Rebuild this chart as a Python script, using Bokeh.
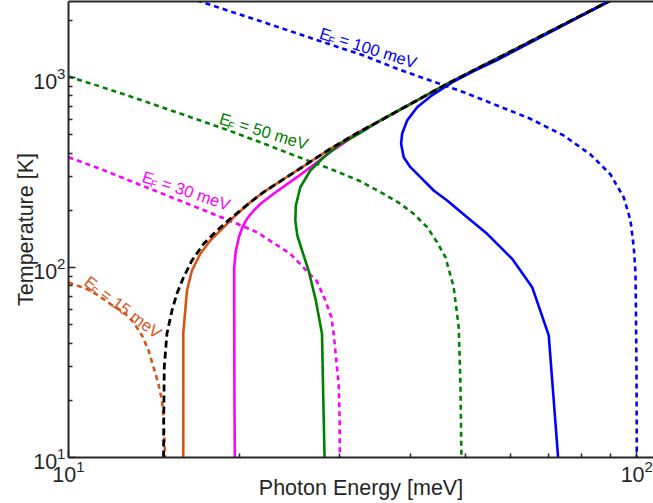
import math
from bokeh.plotting import figure
from bokeh.models import FixedTicker, LogTickFormatter, LogAxis, Label
from bokeh.embed import file_html
from bokeh.resources import INLINE

# ---------------- data ----------------
# Fermi energies of the four doped curves [meV]
fermi_energies = [15, 30, 50, 100]
series_colors = ["#D95319", "#FF00FF", "#008000", "#0000FF"]

# Undoped (black dashed) threshold curve
undoped_E = [14.70, 14.71, 14.74, 14.90, 15.21, 15.51, 15.94, 16.49, 17.29, 18.25,
             19.40, 20.89, 22.04, 25.24, 28.88, 32.40, 35.38, 46.37, 56.78, 89.9]
undoped_T = [10, 15.7, 29.9, 44.9, 59.4, 72.7, 88.9, 108.9, 133.3, 156.5,
             183.9, 220.7, 249.1, 324.0, 421.5, 515.4, 593.8, 926.6, 1259, 2543]

# Solid threshold curves
onset_15_E = [15.92, 15.92, 15.92, 16.05, 16.16, 16.49, 17.06, 17.76, 18.63, 19.52,
              20.89, 22.04, 25.24, 28.88, 32.40, 35.38, 46.37, 56.78, 89.9]
onset_15_T = [10, 19.95, 44.9, 59.4, 75.7, 96.4, 118.1, 138.7, 159.8, 183.9,
              220.7, 249.1, 324.0, 421.5, 515.4, 593.8, 926.6, 1259, 2543]

onset_30_E = [19.62, 19.59, 19.57, 19.57, 19.70, 19.94, 20.22, 20.63, 21.14, 21.75,
              22.96, 25.24, 27.37, 28.88, 32.40, 35.38, 46.37, 56.78, 89.9]
onset_30_T = [10, 19.95, 59.4, 100.4, 122.9, 143.8, 162.4, 181.1, 198.4, 215.9,
              244.3, 298.8, 358.3, 404.6, 510.4, 593.8, 926.6, 1259, 2543]

onset_50_E = [28.22, 28.08, 27.93, 27.24, 26.45, 25.76, 25.27, 25.07, 25.12, 25.58,
              26.64, 28.12, 30.09, 32.40, 35.38, 46.37, 56.78, 89.9]
onset_50_T = [10, 19.95, 44.8, 67.1, 96.4, 122.9, 147.4, 176.8, 212.1, 264.6,
              324.0, 380.6, 447.8, 505.3, 593.8, 926.6, 1259, 2543]

onset_100_E = [72.70, 69.99, 65.45, 60.34, 57.54, 54.53, 50.28, 46.37, 43.91, 41.61,
               39.96, 38.89, 38.48, 38.64, 39.43, 41.07, 43.33, 47.32, 51.64, 56.78, 89.9]
onset_100_T = [10, 43.9, 78.8, 111.1, 127.9, 150.4, 183.9, 225.3, 254.3, 298.8,
               337.3, 380.6, 447.8, 505.3, 593.8, 697.9, 794.3, 941.6, 1082, 1236, 2543]

# Dashed chemical-potential curves mu(T)
mu_15_E = [10.0, 10.14, 10.77, 11.29, 11.84, 12.50, 13.01, 13.47, 13.83, 14.11,
           14.40, 14.60, 14.70, 14.74, 14.80]
mu_15_T = [83.4, 82.1, 77.2, 71.2, 64.4, 58.2, 51.5, 43.9, 36.6, 29.9,
           24.4, 19.95, 16.3, 12.8, 10]

mu_30_E = [10.0, 11.37, 13.01, 14.90, 17.06, 19.52, 21.46, 24.56, 27.37, 28.31,
           29.01, 29.28, 29.88, 30.0, 30.02]
mu_30_T = [380.6, 330.7, 281.2, 239.3, 203.7, 173.1, 153.4, 118.1, 84.4, 67.1,
           54.8, 44.8, 24.4, 15.66, 10]

mu_50_E = [10.0, 11.37, 13.01, 14.90, 17.06, 19.52, 22.04, 25.24, 28.88, 32.40,
           35.85, 38.37, 40.50, 42.76, 44.53, 46.05, 47.62, 48.60, 48.94, 49.14]
mu_50_T = [1012, 896.8, 784.8, 682.8, 593.8, 515.4, 449.4, 383.9, 330.7, 287.1,
           244.3, 216.4, 191.7, 163.0, 135.9, 113.3, 78.8, 48.5, 24.4, 10]

mu_100_E = [16.83, 22.04, 28.88, 33.07, 37.87, 43.33, 49.60, 56.78, 65.0, 74.37,
            82.88, 89.9, 94.87, 97.47, 98.79, 99.48, 99.68, 99.9, 100.0]
mu_100_T = [2543, 1955, 1492, 1306, 1111, 964.3, 836.8, 712.3, 606.1, 495.2,
            393.3, 308.7, 233.6, 176.8, 127.4, 93.0, 54.6, 25.4, 10]

# Axis ticks
x_major_ticks = [10, 100]
x_minor_ticks = [20, 30, 40, 50, 60, 70, 80, 90]
y_major_ticks = [10, 100, 1000]
y_minor_ticks = [20, 30, 40, 50, 60, 70, 80, 90,
                 200, 300, 400, 500, 600, 700, 800, 900, 2000]

# ---------------- figure ----------------
FONT = "Liberation Sans"
AXC = "#262626"

p = figure(width=653, height=503, x_axis_type="log", y_axis_type="log",
           x_range=(10, 107.0), y_range=(10, 2512),
           output_backend="svg", toolbar_location=None,
           min_border_left=68, min_border_right=0, min_border_top=1, min_border_bottom=46)
p.background_fill_color = "white"
p.border_fill_color = "white"
p.outline_line_color = None
p.grid.visible = False

for ax, ticks, minors, lab in ((p.xaxis[0], x_major_ticks, x_minor_ticks, "Photon Energy [meV]"),
                               (p.yaxis[0], y_major_ticks, y_minor_ticks, "Temperature [K]")):
    ax.ticker = FixedTicker(ticks=ticks, minor_ticks=minors)
    ax.formatter = LogTickFormatter()
    ax.axis_label = lab
    ax.axis_label_text_font = FONT
    ax.axis_label_text_font_size = "21.5px"
    ax.axis_label_text_font_style = "normal"
    ax.axis_label_text_color = AXC
    ax.major_label_text_font = FONT
    ax.major_label_text_font_size = "21.5px"
    ax.major_label_text_color = AXC
    ax.axis_line_color = AXC
    ax.axis_line_width = 2
    ax.major_tick_line_color = AXC
    ax.minor_tick_line_color = AXC
    ax.major_tick_line_width = 1.5
    ax.minor_tick_line_width = 1.5
    ax.major_tick_in = 7
    ax.major_tick_out = 0
    ax.minor_tick_in = 4
    ax.minor_tick_out = 0

p.xaxis[0].major_label_standoff = 2
p.xaxis[0].axis_label_standoff = -9
p.yaxis[0].major_label_standoff = 3
p.yaxis[0].axis_label_standoff = -8

top_axis = LogAxis(ticker=FixedTicker(ticks=[]), major_label_text_font_size="0px",
                   major_label_standoff=0, major_tick_in=0, major_tick_out=0,
                   minor_tick_in=0, minor_tick_out=0,
                   axis_line_color=AXC, axis_line_width=2)
p.add_layout(top_axis, "above")

mu_curves = [(mu_15_E, mu_15_T), (mu_30_E, mu_30_T), (mu_50_E, mu_50_T), (mu_100_E, mu_100_T)]
onset_curves = [(onset_15_E, onset_15_T), (onset_30_E, onset_30_T),
                (onset_50_E, onset_50_T), (onset_100_E, onset_100_T)]

for (xs, ys), c in zip(mu_curves, series_colors):
    p.line(xs, ys, line_color=c, line_width=2.6, line_dash="5 4")
for (xs, ys), c in zip(onset_curves, series_colors):
    p.line(xs, ys, line_color=c, line_width=2.6, line_join="round")
p.line(undoped_E, undoped_T, line_color="black", line_width=2.8, line_dash="7 4")

# ---------------- curve labels ----------------
label_anchor_E = [10.76, 13.52, 18.48, 27.73]
label_anchor_T = [86.5, 303.5, 614.2, 1726]
label_angle_deg = [-37, -18.5, -17, -17.5]

FS = 16.5
SUB_FS = 10.5
for ef, c, lx, ly, deg in zip(fermi_energies, series_colors, label_anchor_E, label_anchor_T, label_angle_deg):
    th = math.radians(deg)
    ux, uy = math.cos(th), math.sin(th)
    dx, dy = uy, -ux  # "down" relative to the text
    wE = 0.667 * FS
    wF = 0.611 * SUB_FS
    wSp = 0.278 * FS
    common = dict(x=lx, y=ly, angle=th, text_color=c, text_font=FONT,
                  text_align="left", text_baseline="alphabetic")
    p.add_layout(Label(text="E", x_offset=0, y_offset=0, text_font_size=f"{FS}px", **common))
    p.add_layout(Label(text="F", x_offset=ux * (wE - 1.5) + dx * 4, y_offset=uy * (wE - 1.5) + dy * 4,
                       text_font_size=f"{SUB_FS}px", **common))
    off = wE + wF + wSp - 1.5
    p.add_layout(Label(text=f"= {ef} meV", x_offset=ux * off, y_offset=uy * off,
                       text_font_size=f"{FS}px", **common))

open("out.html", "w").write(file_html(p, INLINE))
